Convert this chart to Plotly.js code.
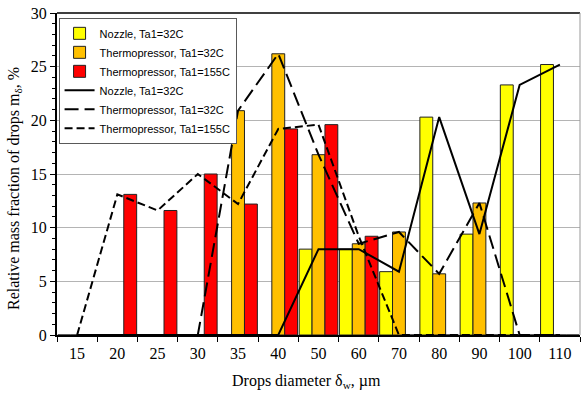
<!DOCTYPE html>
<html>
<head>
<meta charset="utf-8">
<script src="https://cdn.plot.ly/plotly-3.0.1.min.js"></script>
<style>html,body{margin:0;padding:0;background:#fff;}#chart{width:581px;height:394px;}</style>
</head>
<body>
<div id="chart"></div>
<script>
const categories = ['15','20','25','30','35','40','50','60','70','80','90','100','110'];
const nozzle32 = [0,0,0,0,0,0,8.0,8.0,5.9,20.3,9.4,23.3,25.2];
const thermo32 = [0,0,0,0,20.9,26.2,16.8,8.5,9.6,5.7,12.3,0,0];
const thermo155 = [0,13.1,11.6,15.0,12.2,19.2,19.6,9.2,0,0,0,0,0];
const names = ['Nozzle, Ta1=32C','Thermopressor, Ta1=32C','Thermopressor, Ta1=155C'];
const xTitle = 'Drops diameter δ<sub>w</sub>, µm';
const yTitle = 'Relative mass fraction of drops m<sub>δ</sub>, %';

const barColors = ['#FFFF00','#FFC000','#FF0000'];
const series = [nozzle32, thermo32, thermo155];
const dashes = ['solid','14px,6px','8px,4px'];

const traces = [];
series.forEach((s,i)=>{
  traces.push({type:'bar', x:categories, y:s, name:names[i],
    marker:{color:barColors[i], line:{color:'#222', width:1}}});
});
series.forEach((s,i)=>{
  traces.push({type:'scatter', mode:'lines', x:categories, y:s, name:names[i],
    line:{color:'#000', width:2, dash:dashes[i]}, cliponaxis:false});
});

const serif = 'Liberation Serif, Times New Roman, serif';
const layout = {
  width:581, height:394,
  margin:{l:57, r:1, t:13, b:59},
  paper_bgcolor:'#fff', plot_bgcolor:'#fff',
  barmode:'group', bargap:0.04, bargroupgap:0,
  showlegend:true,
  legend:{x:0.003, y:0.985, xanchor:'left', yanchor:'top', bgcolor:'#fff',
    bordercolor:'#595959', borderwidth:1, tracegroupgap:0, itemwidth:30,
    font:{family:'Liberation Sans, Arial, sans-serif', size:11, color:'#000'}},
  xaxis:{type:'category', range:[-0.5,12.5], tickson:'boundaries', ticks:'outside', ticklen:5,
    tickcolor:'#000', showline:true, linecolor:'#000', linewidth:2, mirror:false,
    showgrid:false, zeroline:false, ticklabelstandoff:3,
    tickfont:{family:serif, size:16, color:'#000'}},
  yaxis:{range:[0,30], dtick:5, ticks:'outside', ticklen:5, tickcolor:'#000',
    minor:{dtick:1, ticks:'outside', ticklen:3, tickcolor:'#000', showgrid:false},
    showline:true, linecolor:'#000', linewidth:2, showgrid:true, gridcolor:'#b4b4b4', gridwidth:1,
    zeroline:false,
    tickfont:{family:serif, size:16, color:'#000'}},
  annotations:[
    {text:xTitle, xref:'paper', yref:'paper', x:(306-57)/523, y:-(381-335)/322, xanchor:'center', yanchor:'middle',
      showarrow:false, font:{family:serif, size:16, color:'#000'}},
    {text:yTitle, xref:'paper', yref:'paper', x:-(57-15)/523, y:(335-189)/322, xanchor:'center', yanchor:'middle',
      textangle:-90, showarrow:false, font:{family:serif, size:16, color:'#000'}}
  ],
  shapes:[
    {type:'line', xref:'paper', yref:'paper', x0:0, x1:1, y0:1, y1:1, line:{color:'#000', width:1.5}},
    {type:'line', xref:'paper', yref:'paper', x0:1, x1:1, y0:0, y1:1, line:{color:'#999', width:1}}
  ]
};
Plotly.newPlot('chart', traces, layout, {displayModeBar:false, staticPlot:true});
</script>
</body>
</html>
